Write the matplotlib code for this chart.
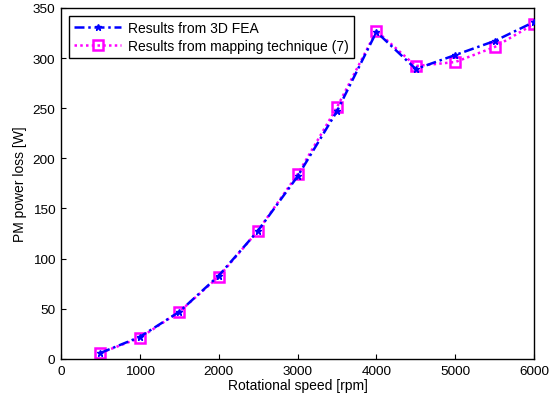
import matplotlib
matplotlib.use("Agg")
import matplotlib.pyplot as plt

speed = [500, 1000, 1500, 2000, 2500, 3000, 3500, 4000, 4500, 5000, 5500, 6000]
fea = [6, 22, 47, 83, 128, 182, 247, 326, 289, 303, 317, 336]
mapping = [6, 21, 47, 82, 128, 184, 251, 327, 292, 296, 311, 334]

plt.rcParams['font.family'] = ['Liberation Sans', 'DejaVu Sans']
fig = plt.figure(figsize=(5.49, 4.02), dpi=100)
ax = fig.add_axes([0.111, 0.1045, 0.862, 0.8735])

ax.plot(speed, mapping, color='#ff00ff', linestyle=(0, (1, 1.3)), linewidth=1.8,
        marker='s', markersize=6.5, markerfacecolor='none', markeredgewidth=1.8,
        label='Results from mapping technique (7)', zorder=2)
ax.plot(speed, fea, color='#0000ff', linestyle=(0, (4, 1.5, 1, 1.5)), linewidth=1.8,
        marker='*', markersize=5, label='Results from 3D FEA', zorder=3)

ax.set_xlim(0, 6000)
ax.set_ylim(0, 350)
ax.set_xticks(range(0, 6001, 1000))
ax.set_yticks(range(0, 351, 50))
ax.tick_params(direction='in', labelsize=9.7, length=3.5, pad=4)
ax.set_xlabel('Rotational speed [rpm]', fontsize=10, labelpad=1)
ax.set_ylabel('PM power loss [W]', fontsize=10, labelpad=4)
h, l = ax.get_legend_handles_labels()
leg = ax.legend(h[::-1], l[::-1], loc='upper left', fontsize=10, fancybox=False,
                edgecolor='black', borderaxespad=0.6, handlelength=3.4,
                framealpha=1, borderpad=0.35, labelspacing=0.3, handletextpad=0.5)
leg.get_frame().set_linewidth(1)
for s in ax.spines.values():
    s.set_linewidth(1)

fig.savefig('out.png', dpi=100)
